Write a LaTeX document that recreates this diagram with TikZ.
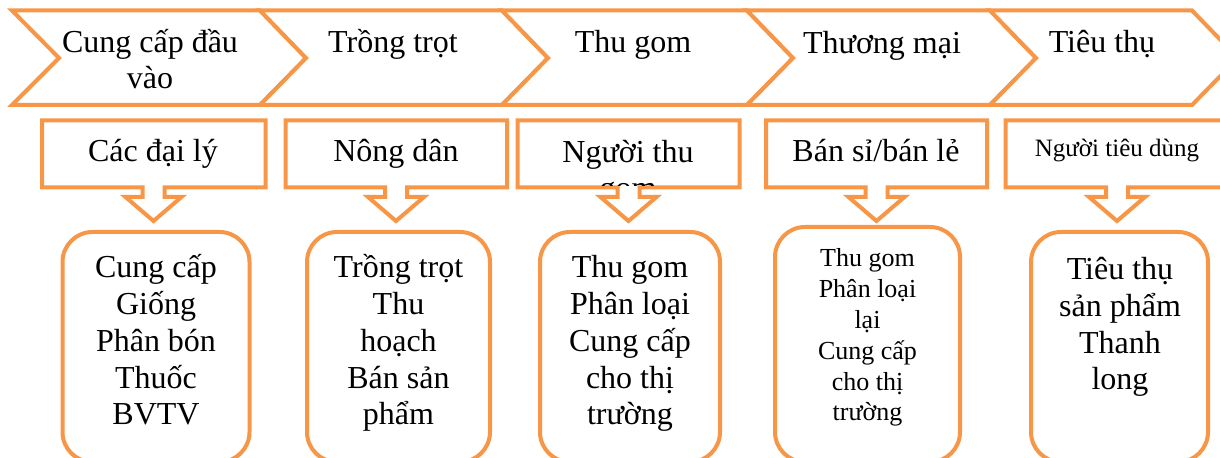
\documentclass[tikz,border=0pt]{standalone}
\usepackage{fontspec}
\setmainfont{Liberation Serif}
\definecolor{chainorange}{HTML}{F79646}

\begin{document}
\begin{tikzpicture}[x=0.5pt, y=-0.5pt,
        stage/.style={draw=chainorange, line width=2pt, fill=white},
        callout/.style={draw=chainorange, line width=2pt, fill=white},
        task/.style={draw=chainorange, line width=2pt, fill=white,
            rounded corners=15pt},
        lbl/.style={inner sep=0pt, align=center, anchor=base,
            font=\fontsize{16}{18.4}\selectfont},
        small/.style={lbl, font=\fontsize{13}{15.4}\selectfont}]
    \useasboundingbox (0,0) rectangle (1220,458);
    \clip (0,0) rectangle (1220,458);

    % stages (base anchor sits on the last line)
    \draw[stage] (12,10.5) -- (260,10.5) -- (306,58) -- (260,105) -- (12,105) -- (59,58) -- cycle;
    \draw[stage] (260,10.5) -- (502,10.5) -- (548,58) -- (502,105) -- (260,105) -- (306,58) -- cycle;
    \draw[stage] (502,10.5) -- (747,10.5) -- (793,58) -- (747,105) -- (502,105) -- (548,58) -- cycle;
    \draw[stage] (747,10.5) -- (990,10.5) -- (1036,58) -- (990,105) -- (747,105) -- (793,58) -- cycle;
    \draw[stage] (990,10.5) -- (1192,10.5) -- (1238,58) -- (1192,105) -- (990,105) -- (1036,58) -- cycle;

    \node[lbl] (stage1) at (150,89) {Cung cấp đầu\\vào};
    \node[lbl] (stage2) at (393,53) {Trồng trọt};
    \node[lbl] (stage3) at (633,53) {Thu gom};
    \node[lbl] (stage4) at (882,54) {Thương mại};
    \node[lbl] (stage5) at (1102,53) {Tiêu thụ};

    % actors
    \draw[callout] (42,120.5) -- (265.5,120.5) -- (265.5,187.5) -- (164.5,187.5) -- (164.5,197)
        -- (181.5,197) -- (153.5,221) -- (125.5,197) -- (142.5,197) -- (142.5,187.5) -- (42,187.5) -- cycle;
    \draw[callout] (285.5,120.5) -- (507,120.5) -- (507,187.5) -- (407,187.5) -- (407,197)
        -- (424,197) -- (396,221) -- (368,197) -- (385,197) -- (385,187.5) -- (285.5,187.5) -- cycle;
    \draw[callout] (517.5,120.5) -- (739.5,120.5) -- (739.5,187.5) -- (639.5,187.5) -- (639.5,197)
        -- (656.5,197) -- (628.5,221) -- (600.5,197) -- (617.5,197) -- (617.5,187.5) -- (517.5,187.5) -- cycle;
    \draw[callout] (766,120.5) -- (987,120.5) -- (987,187.5) -- (887.5,187.5) -- (887.5,197)
        -- (904.5,197) -- (876.5,221) -- (848.5,197) -- (865.5,197) -- (865.5,187.5) -- (766,187.5) -- cycle;
    \draw[callout] (1005.5,120.5) -- (1229,120.5) -- (1229,187.5) -- (1128,187.5) -- (1128,197)
        -- (1145,197) -- (1117,221) -- (1089,197) -- (1106,197) -- (1106,187.5) -- (1005.5,187.5) -- cycle;

    \node[lbl] (actor1) at (153,162) {Các đại lý};
    \node[lbl] (actor2) at (396,162) {Nông dân};
    \begin{scope}
        \clip (517.5,120.5) rectangle (739.5,186);
        \node[lbl] (actor3) at (628,199) {Người thu\\gom};
    \end{scope}
    \node[lbl] (actor4) at (876,162) {Bán sỉ/bán lẻ};
    \node[lbl, font=\fontsize{12.5}{15}\selectfont] (actor5) at (1117,157) {Người tiêu dùng};

    % tasks
    \draw[task] (62.5,232) rectangle (249.5,462);
    \draw[task] (307,232) rectangle (490,462);
    \draw[task] (540,232) rectangle (720,462);
    \draw[task] (775,227) rectangle (960,462);
    \draw[task] (1031,232) rectangle (1208,462);

    \node[lbl] (task1) at (156,425) {Cung cấp\\Giống\\Phân bón\\Thuốc\\BVTV};
    \node[lbl] (task2) at (398.5,425) {Trồng trọt\\Thu\\hoạch\\Bán sản\\phẩm};
    \node[lbl] (task3) at (630,425) {Thu gom\\Phân loại\\Cung cấp\\cho thị\\trường};
    \node[small] (task4) at (867.5,421) {Thu gom\\Phân loại\\lại\\Cung cấp\\cho thị\\trường};
    \node[lbl] (task5) at (1120,390) {Tiêu thụ\\sản phẩm\\Thanh\\long};
\end{tikzpicture}
\end{document}
